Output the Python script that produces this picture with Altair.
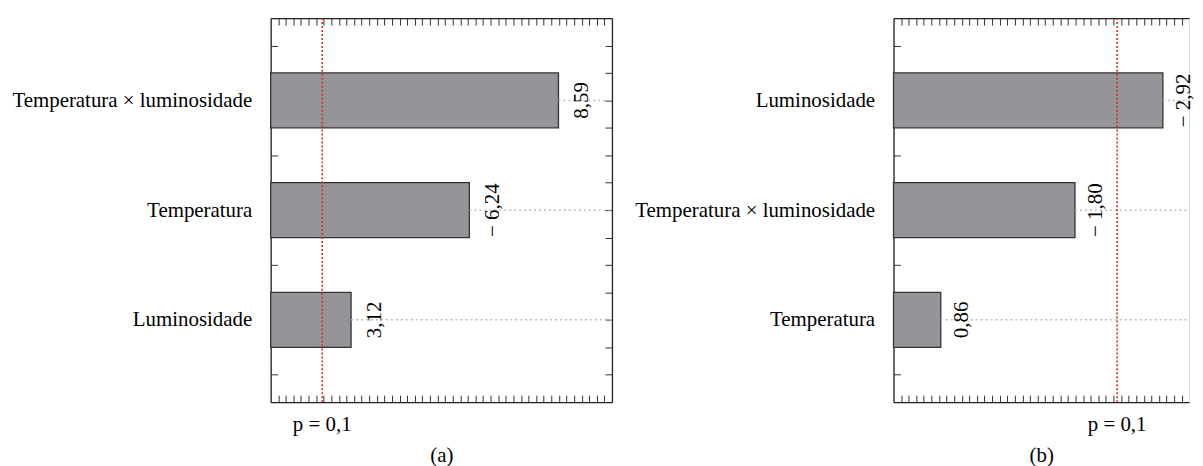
import altair as alt
import pandas as pd

# ---- data ----
terms_a = ["Temperatura × luminosidade", "Temperatura", "Luminosidade"]
effects_a = [8.59, -6.24, 3.12]
terms_b = ["Luminosidade", "Temperatura × luminosidade", "Temperatura"]
effects_b = [-2.92, -1.80, 0.86]
p_line_a = 2.36
p_line_b = 2.27
p_label = "p = 0,1"
domain_a = [1.0, 10.0]
domain_b = [0.663, 3.372]   # panel (b) is cut off by the picture's right edge
panel_titles = ["(a)", "(b)"]

FONT = "Liberation Serif"
FS = 21
W_FULL, H = 343, 386
W_B = 297
SLOTS = 7
N_TICKS = 45
FRAME = "#222222"


def fmt(v):
    s = f"{abs(v):.2f}".replace(".", ",")
    return ("\u2212 " + s) if v < 0 else s


def panel(terms, effects, p_line, domain, scale_type, title, width, cut, text_gap):
    df = pd.DataFrame({
        "term": terms,
        "mag": [abs(v) for v in effects],
        "label": [fmt(v) for v in effects],
        "pos": [2 * i + 1.5 for i in range(len(terms))],
    })
    df["top"] = df["pos"] - 0.5
    df["bot"] = df["pos"] + 0.5
    df["base"] = domain[0]
    df["end"] = domain[1]

    xs = alt.Scale(type=scale_type, domain=domain, nice=False, zero=False)
    ys = alt.Scale(domain=[0, SLOTS], reverse=True, nice=False, zero=False)

    label_expr = " : ".join(
        f"datum.value == {p} ? '{t}'" for p, t in zip(df["pos"], df["term"])
    ) + " : ''"
    yaxis = alt.Axis(
        orient="left", values=[0.5 + i for i in range(SLOTS)],
        labelExpr=label_expr, offset=-7, tickSize=7, domain=False, grid=False,
        labelFont=FONT, labelFontSize=FS, labelColor="black", labelPadding=19,
        tickColor="#333333", labelAlign="right", labelBaseline="middle",
        labelOverlap=False, labelLimit=500, title=None)

    base = alt.Chart(df)
    bars = base.mark_bar(color="#939598", stroke="#333333", strokeWidth=1.3).encode(
        x=alt.X("mag:Q", scale=xs, axis=None),
        x2="base:Q",
        y=alt.Y("top:Q", scale=ys, axis=yaxis),
        y2="bot:Q",
    )
    guides = base.mark_rule(color="#bbbbbb", strokeDash=[2, 3], strokeWidth=1.5).encode(
        x=alt.X("mag:Q", scale=xs, axis=None),
        x2="end:Q",
        y=alt.Y("pos:Q", scale=ys, axis=yaxis),
    )
    values = base.mark_text(angle=270, align="center", baseline="top", xOffset=text_gap,
                            font=FONT, fontSize=FS, color="#000000").encode(
        x=alt.X("mag:Q", scale=xs, axis=None),
        y=alt.Y("pos:Q", scale=ys, axis=yaxis),
        text="label:N",
    )
    pdf = pd.DataFrame({"p": [p_line], "lab": [p_label]})
    red = alt.Chart(pdf).mark_rule(color="#e3262c", strokeDash=[2, 2], strokeWidth=1.6).encode(
        x=alt.X("p:Q", scale=xs, axis=None),
    )
    ptext = alt.Chart(pdf).mark_text(font=FONT, fontSize=FS, color="black",
                                     baseline="alphabetic", align="center").encode(
        x=alt.X("p:Q", scale=xs, axis=None),
        y=alt.value(H + 29),
        text="lab:N",
    )
    main = alt.layer(bars, guides, red, values, ptext)

    # decorative inward ticks, evenly spaced along the frame
    tdf = pd.DataFrame({"x": [1.0], "y": [3.5]})
    tick_dom = N_TICKS * width / W_FULL
    txs = alt.Scale(domain=[0, tick_dom], nice=False, zero=False)
    tick_x_vals = [k for k in range(1, N_TICKS) if k < tick_dom]
    right_vals = [0.5 * k for k in range(1, 2 * SLOTS)]

    def tick_axis(orient, **kw):
        return alt.Axis(orient=orient, labels=False, domain=False, grid=False,
                        tickSize=7, offset=-7, tickColor="#333333", **kw)

    def frame_axis(orient):
        return alt.Axis(orient=orient, labels=False, ticks=False, grid=False,
                        domain=True, domainColor=FRAME, domainWidth=1.3,
                        offset=0, title=None)

    top_layer = alt.Chart(tdf).mark_point(opacity=0, size=1).encode(
        x=alt.X("x:Q", scale=txs, axis=tick_axis("top", values=tick_x_vals, title=None)),
        y=alt.Y("y:Q", scale=ys,
                axis=None if cut else tick_axis("right", values=right_vals, title=None)),
    )
    bottom_layer = alt.Chart(tdf).mark_point(opacity=0, size=1).encode(
        x=alt.X("x:Q", scale=txs, axis=tick_axis(
            "bottom", values=tick_x_vals, title=title, titleFont=FONT,
            titleFontSize=FS, titleFontWeight="normal", titleColor="black",
            titlePadding=42)),
        y=alt.Y("y:Q", scale=ys, axis=None),
    )
    frame_top = alt.Chart(tdf).mark_point(opacity=0, size=1).encode(
        x=alt.X("x:Q", scale=txs, axis=frame_axis("top")),
        y=alt.Y("y:Q", scale=ys, axis=frame_axis("left")),
    )
    frame_bottom = alt.Chart(tdf).mark_point(opacity=0, size=1).encode(
        x=alt.X("x:Q", scale=txs, axis=frame_axis("bottom")),
        y=alt.Y("y:Q", scale=ys, axis=None if cut else frame_axis("right")),
    )
    return alt.layer(main, frame_top, frame_bottom, top_layer, bottom_layer).resolve_scale(
        x="independent", y="independent"
    ).resolve_axis(x="independent", y="independent").properties(width=width, height=H)


pa = panel(terms_a, effects_a, p_line_a, domain_a, "linear", panel_titles[0], W_FULL, False, 13)
pb = panel(terms_b, effects_b, p_line_b, domain_b, "log", panel_titles[1], W_B, True, 10)

chart = alt.hconcat(pa, pb, spacing=20).properties(
    padding={"left": 3, "top": 7, "right": 0, "bottom": 0}
).configure_view(strokeOpacity=0).configure(background="white")

chart.save("out.html", embed_options={"renderer": "svg", "actions": False})
